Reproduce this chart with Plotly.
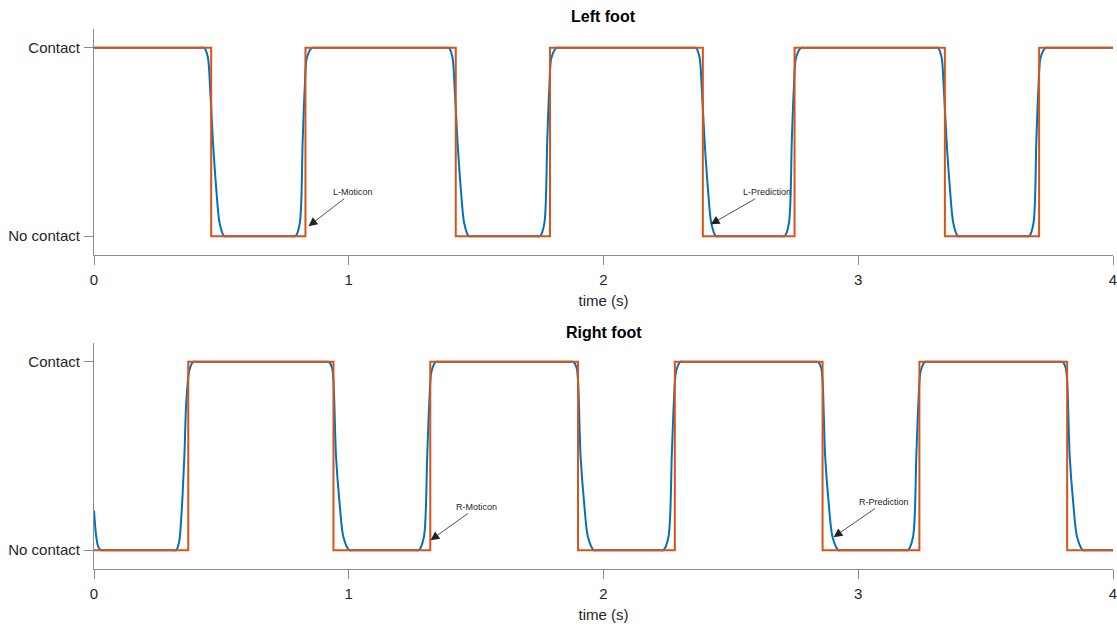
import plotly.graph_objects as go

# ---------------- data ----------------
# Moticon (measured) contact state: switching times (s) and state after switch
left_moticon_t = [0, 0.46, 0.83, 1.42, 1.79, 2.39, 2.75, 3.34, 3.71, 4.0]
left_moticon_v = [1, 0, 1, 0, 1, 0, 1, 0, 1, 1]
right_moticon_t = [0, 0.37, 0.94, 1.32, 1.90, 2.28, 2.86, 3.24, 3.82, 4.0]
right_moticon_v = [0, 1, 0, 1, 0, 1, 0, 1, 0, 0]

# Prediction (smooth) contact signal
left_pred_t = [0.0,
               0.418, 0.433, 0.447, 0.456, 0.467, 0.480, 0.493, 0.511, 0.526,
               0.776, 0.791, 0.808, 0.819, 0.827, 0.836, 0.856, 0.871,
               1.378, 1.393, 1.407, 1.416, 1.427, 1.440, 1.453, 1.471, 1.486,
               1.736, 1.751, 1.768, 1.779, 1.787, 1.796, 1.816, 1.831,
               2.348, 2.363, 2.377, 2.386, 2.397, 2.410, 2.423, 2.441, 2.456,
               2.696, 2.711, 2.728, 2.739, 2.747, 2.756, 2.776, 2.791,
               3.298, 3.313, 3.327, 3.336, 3.347, 3.360, 3.373, 3.391, 3.406,
               3.656, 3.671, 3.688, 3.699, 3.707, 3.716, 3.736, 3.751,
               4.0]
left_pred_v = [1.0,
               1.0, 1.0, 0.95, 0.78, 0.5, 0.25, 0.07, 0.0, 0.0,
               0.0, 0.0, 0.07, 0.5, 0.78, 0.95, 1.0, 1.0,
               1.0, 1.0, 0.95, 0.78, 0.5, 0.25, 0.07, 0.0, 0.0,
               0.0, 0.0, 0.07, 0.5, 0.78, 0.95, 1.0, 1.0,
               1.0, 1.0, 0.95, 0.78, 0.5, 0.25, 0.07, 0.0, 0.0,
               0.0, 0.0, 0.07, 0.5, 0.78, 0.95, 1.0, 1.0,
               1.0, 1.0, 0.95, 0.78, 0.5, 0.25, 0.07, 0.0, 0.0,
               0.0, 0.0, 0.07, 0.5, 0.78, 0.95, 1.0, 1.0,
               1.0]

right_pred_t = [0.0, 0.008, 0.016, 0.026, 0.040,
                0.308, 0.323, 0.335, 0.342, 0.355, 0.362, 0.375, 0.390, 0.405,
                0.907, 0.922, 0.934, 0.940, 0.950, 0.964, 0.979, 1.002, 1.017,
                1.260, 1.275, 1.295, 1.308, 1.316, 1.325, 1.342, 1.357,
                1.867, 1.882, 1.894, 1.900, 1.910, 1.924, 1.939, 1.962, 1.977,
                2.220, 2.235, 2.255, 2.268, 2.276, 2.285, 2.302, 2.317,
                2.827, 2.842, 2.854, 2.860, 2.870, 2.884, 2.899, 2.922, 2.937,
                3.180, 3.195, 3.215, 3.228, 3.236, 3.245, 3.262, 3.277,
                3.787, 3.802, 3.814, 3.820, 3.830, 3.844, 3.859, 3.882, 3.897,
                4.0]
right_pred_v = [0.21, 0.08, 0.02, 0.0, 0.0,
                0.0, 0.0, 0.05, 0.16, 0.51, 0.78, 0.96, 1.0, 1.0,
                1.0, 1.0, 0.97, 0.9, 0.5, 0.25, 0.07, 0.0, 0.0,
                0.0, 0.0, 0.07, 0.5, 0.78, 0.95, 1.0, 1.0,
                1.0, 1.0, 0.97, 0.9, 0.5, 0.25, 0.07, 0.0, 0.0,
                0.0, 0.0, 0.07, 0.5, 0.78, 0.95, 1.0, 1.0,
                1.0, 1.0, 0.97, 0.9, 0.5, 0.25, 0.07, 0.0, 0.0,
                0.0, 0.0, 0.07, 0.5, 0.78, 0.95, 1.0, 1.0,
                1.0, 1.0, 0.97, 0.9, 0.5, 0.25, 0.07, 0.0, 0.0,
                0.0]

x_ticks = [0, 1, 2, 3, 4]
y_tickvals = [0, 1]
y_ticktext = ["No contact", "Contact"]
titles = ["Left foot", "Right foot"]

# annotations: (text, tip_x, tip_y, text_x, text_y, axis index)
notes = [
    ("L-Moticon", 0.842, 0.053, 1.015, 0.233, 1),
    ("L-Prediction", 2.421, 0.063, 2.640, 0.233, 1),
    ("R-Moticon", 1.321, 0.053, 1.503, 0.229, 2),
    ("R-Prediction", 2.903, 0.069, 3.102, 0.255, 2),
]

BLUE = "#0072BD"
ORANGE = "#D95319"
AXC = "#8c8c8c"
TXT = "#262626"
FONT = "Liberation Sans, Arial, sans-serif"

fig = go.Figure()

series = [
    (left_pred_t, left_pred_v, left_moticon_t, left_moticon_v, "x", "y"),
    (right_pred_t, right_pred_v, right_moticon_t, right_moticon_v, "x2", "y2"),
]
for pt, pv, mt, mv, xa, ya in series:
    fig.add_trace(go.Scatter(x=pt, y=pv, mode="lines", xaxis=xa, yaxis=ya,
                             line=dict(color=BLUE, width=2, shape="spline", smoothing=0.8),
                             showlegend=False, hoverinfo="skip"))
    fig.add_trace(go.Scatter(x=mt, y=mv, mode="lines", xaxis=xa, yaxis=ya,
                             line=dict(color=ORANGE, width=2, shape="hv"),
                             showlegend=False, hoverinfo="skip"))

xdom = [94 / 1117, 1113 / 1117]
ydoms = [[1 - 255 / 626, 1 - 29 / 626], [1 - 569 / 626, 1 - 343 / 626]]

common_x = dict(range=[0, 4], tickvals=x_ticks, ticks="outside", ticklen=9, tickcolor=AXC,
                showline=True, linecolor=AXC, linewidth=1, showgrid=False, zeroline=False,
                tickfont=dict(family=FONT, size=15, color=TXT), ticklabelstandoff=2,
                ticklabeloverflow="allow", automargin=False,
                title=dict(text="time (s)", font=dict(family=FONT, size=15, color=TXT), standoff=8),
                domain=xdom, mirror=False)
common_y = dict(range=[-0.1, 1.1], tickvals=y_tickvals, ticktext=y_ticktext, ticks="outside",
                ticklen=9, tickcolor=AXC, showline=True, linecolor=AXC, linewidth=1,
                showgrid=False, zeroline=False, tickfont=dict(family=FONT, size=15, color=TXT),
                ticklabelstandoff=1, automargin=False, mirror=False)

fig.update_layout(
    width=1117, height=626,
    margin=dict(l=0, r=0, t=0, b=0),
    paper_bgcolor="white", plot_bgcolor="white",
    xaxis=dict(**common_x, anchor="y"),
    yaxis=dict(**common_y, domain=ydoms[0], anchor="x"),
    xaxis2=dict(**common_x, anchor="y2"),
    yaxis2=dict(**common_y, domain=ydoms[1], anchor="x2"),
)

# subplot titles
for i, (t, yp) in enumerate(zip(titles, [17, 332])):
    fig.add_annotation(text="<b>%s</b>" % t, xref="paper", yref="paper",
                       x=(xdom[0] + xdom[1]) / 2, y=1 - yp / 626, showarrow=False,
                       xanchor="center", yanchor="middle",
                       font=dict(family=FONT, size=16, color="#000000"))

for text, tx, ty, ax, ay, idx in notes:
    xr = "x" if idx == 1 else "x2"
    yr = "y" if idx == 1 else "y2"
    fig.add_annotation(text=text, x=tx, y=ty, xref=xr, yref=yr,
                       ax=ax, ay=ay, axref=xr, ayref=yr,
                       showarrow=True, arrowhead=2, arrowsize=2.2, arrowwidth=0.8,
                       arrowcolor="#222222", standoff=0,
                       font=dict(family=FONT, size=9, color=TXT))

fig.write_html("out.html")
